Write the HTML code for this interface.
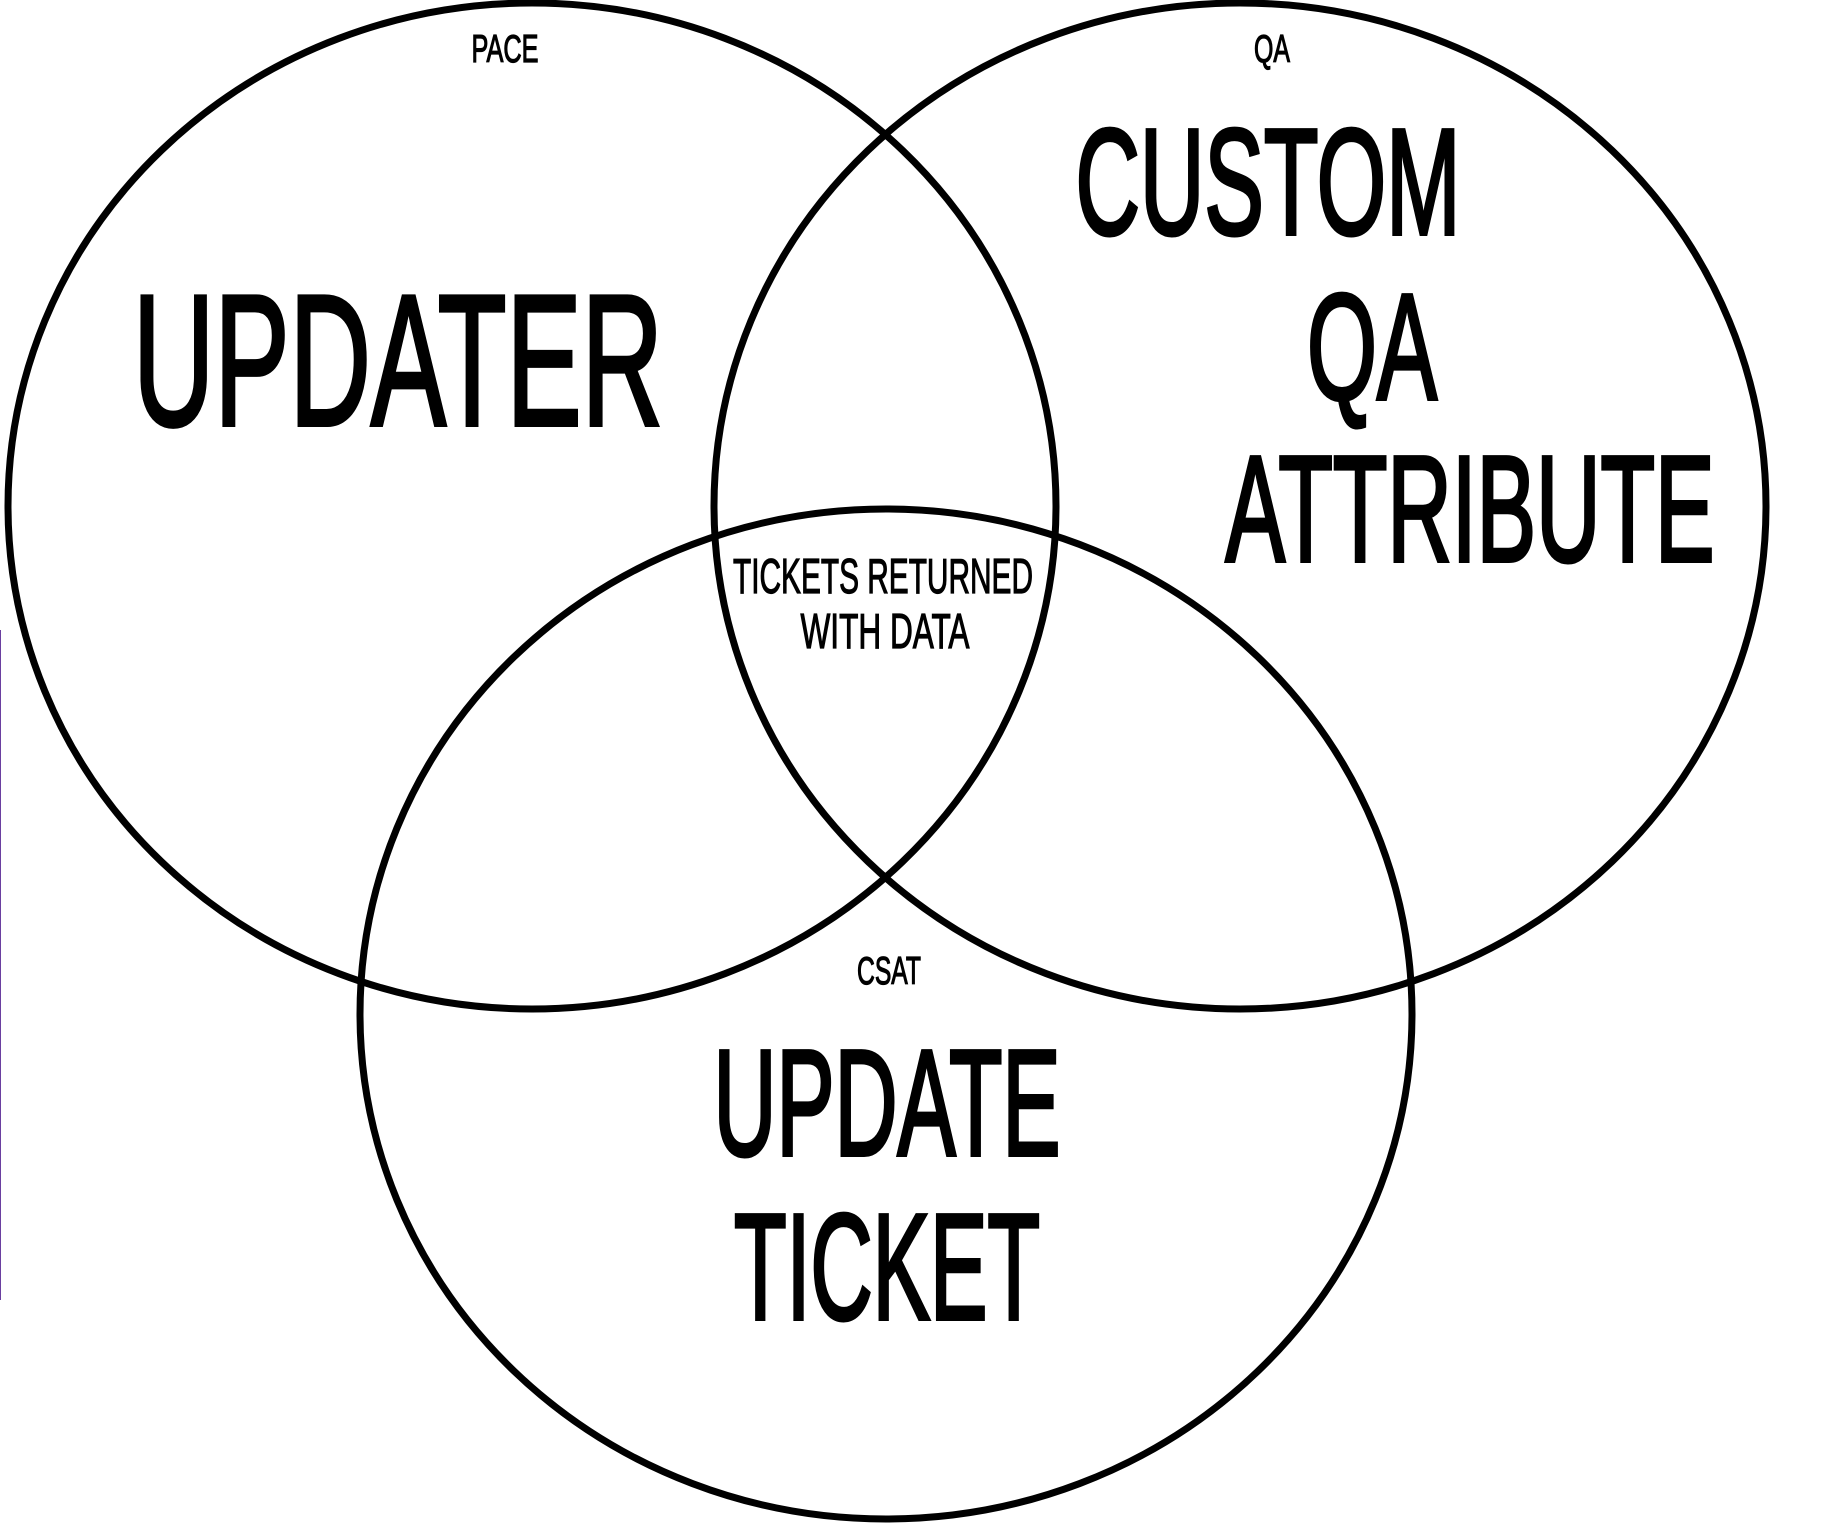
<!DOCTYPE html>
<html><head><meta charset="utf-8"><style>html,body{margin:0;padding:0;background:#fff;}svg{display:block}</style></head>
<body>
<svg width="1824" height="1526" viewBox="0 0 1824 1526" xmlns="http://www.w3.org/2000/svg">
<rect width="1824" height="1526" fill="#fff"/>
<line x1="0.5" y1="630" x2="0.5" y2="1300" stroke="#6a3fa0" stroke-width="1"/>
<g fill="none" stroke="#000" stroke-width="7">
<ellipse cx="532" cy="506" rx="524" ry="503"/>
<ellipse cx="1240" cy="506" rx="526" ry="503"/>
<ellipse cx="886" cy="1014" rx="526" ry="505"/>
</g>
<g font-family="Liberation Sans, sans-serif" fill="#000" stroke="#000" text-anchor="middle">
<g stroke-width="1.2">
<text x="505" y="62" font-size="39" textLength="67" lengthAdjust="spacingAndGlyphs">PACE</text>
<text x="1272" y="62" font-size="39" textLength="36" lengthAdjust="spacingAndGlyphs">QA</text>
<text x="889" y="984" font-size="39" textLength="64" lengthAdjust="spacingAndGlyphs">CSAT</text>
<text x="883" y="593" font-size="49" textLength="300" lengthAdjust="spacingAndGlyphs">TICKETS RETURNED</text>
<text x="885" y="648" font-size="49" textLength="169" lengthAdjust="spacingAndGlyphs">WITH DATA</text>
</g>
<g stroke-width="4">
<text x="398" y="425" font-size="187" textLength="530" lengthAdjust="spacingAndGlyphs">UPDATER</text>
<text x="1268" y="234" font-size="151" textLength="385" lengthAdjust="spacingAndGlyphs">CUSTOM</text>
<text x="1372" y="399" font-size="151" textLength="130" lengthAdjust="spacingAndGlyphs">QA</text>
<text x="1470" y="561" font-size="151" textLength="489" lengthAdjust="spacingAndGlyphs">ATTRIBUTE</text>
<text x="887" y="1155" font-size="151" textLength="347" lengthAdjust="spacingAndGlyphs">UPDATE</text>
<text x="887" y="1319" font-size="151" textLength="306" lengthAdjust="spacingAndGlyphs">TICKET</text>
</g>
</g>
</svg>
</body></html>
